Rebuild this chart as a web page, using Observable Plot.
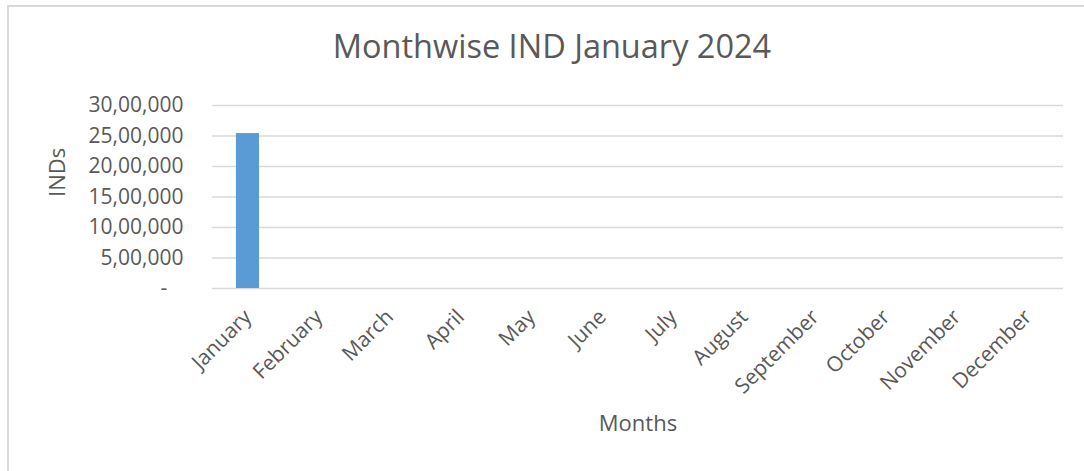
<!DOCTYPE html>
<html>
<head>
<meta charset="utf-8">
<script src="https://cdn.jsdelivr.net/npm/d3@7"></script>
<script src="https://cdn.jsdelivr.net/npm/@observablehq/plot@0.6"></script>
<style>
  html, body { margin: 0; padding: 0; background: #fff; }
  body { width: 1084px; height: 471px; position: relative; overflow: hidden; font-family: "Open Sans", sans-serif; }
  #frame { position: absolute; left: 7px; top: 5px; width: 1200px; height: 600px; border-left: 2px solid #d9d9d9; border-top: 2px solid #d9d9d9; box-sizing: border-box; }
  #title { position: absolute; left: 0; top: 24px; width: 1104px; text-align: center; font-size: 32.5px; color: #595959; line-height: 44px; }
  #chart { position: absolute; left: 0; top: 90px; }
  #chart svg { font-family: "Open Sans", sans-serif; font-size: 21px; color: #595959; }
  #chart [aria-label="x-axis label"] text { font-size: 22px; }
</style>
</head>
<body>
<div id="frame"></div>
<div id="title">Monthwise IND January 2024</div>
<div id="chart"></div>
<script>
const months = ["January", "February", "March", "April", "May", "June", "July", "August", "September", "October", "November", "December"];
const inds = [2540000, null, null, null, null, null, null, null, null, null, null, null];
const yTicks = [0, 500000, 1000000, 1500000, 2000000, 2500000, 3000000];
const xTitle = "Months";
const yTitle = "INDs";

const data = months.map((m, i) => ({month: m, value: inds[i]}));
const fmt = v => v === 0 ? "-\u00a0\u00a0\u00a0" : v.toLocaleString("en-IN");

const chart = Plot.plot({
  width: 1084,
  height: 381,
  marginLeft: 212,
  marginRight: 21,
  marginTop: 15,
  marginBottom: 183,
  x: {domain: months, paddingInner: 0.675, paddingOuter: 0.3375, round: false},
  y: {domain: [0, 3000000]},
  marks: [
    Plot.gridY(yTicks, {stroke: "#d9d9d9", strokeOpacity: 1, strokeWidth: 1.5}),
    Plot.barY(data, {x: "month", y: "value", fill: "#5b9bd5"}),
    Plot.axisY(yTicks, {tickSize: 0, tickPadding: 29, tickFormat: fmt, label: null, fill: "#595959"}),
    Plot.axisX({tickSize: 0, tickRotate: -45, tickPadding: 25, label: xTitle, labelAnchor: "center", labelOffset: 142, fill: "#595959"}),
    Plot.text([yTitle], {frameAnchor: "left", dx: -155, rotate: -90, fontSize: 22, fill: "#595959"})
  ]
});
document.getElementById("chart").appendChild(chart);
</script>
</body>
</html>
